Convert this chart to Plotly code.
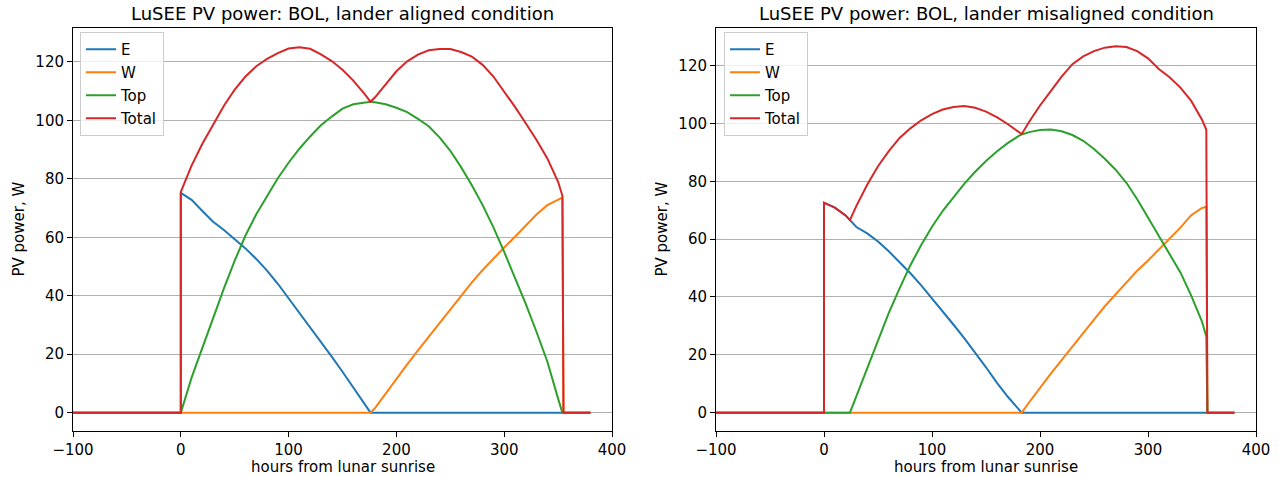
import plotly.graph_objects as go

# ---------------- data: aligned (left) ----------------
hours_aligned = [-100, 0, 0, 10, 20, 30, 40, 50, 60, 70, 80, 90, 100, 110, 120, 130, 140, 150, 160, 170, 176,
                 180, 190, 200, 210, 220, 230, 240, 250, 260, 270, 280, 290, 300, 310, 320, 330, 340, 350, 354, 355, 380]
E_aligned = [0, 0, 75.2, 72.8, 69, 65.3, 62.5, 59.5, 56.2, 52.6, 48.6, 44.1, 39.2, 34.2, 29.2, 24.2, 19.2, 14, 8.7, 3.5, 0,
             0, 0, 0, 0, 0, 0, 0, 0, 0, 0, 0, 0, 0, 0, 0, 0, 0, 0, 0, 0, 0]
W_aligned = [0, 0, 0, 0, 0, 0, 0, 0, 0, 0, 0, 0, 0, 0, 0, 0, 0, 0, 0, 0, 0,
             1.5, 6.6, 11.6, 16.5, 21.3, 26, 30.8, 35.5, 40.1, 44.6, 48.8, 52.8, 56.5, 60.2, 64, 67.8, 71, 73, 73.6, 0, 0]
Top_aligned = [0, 0, 0, 12, 22.3, 32.5, 42.5, 52, 60.6, 67.9, 74.3, 80.2, 85.5, 90.3, 94.5, 98.3, 101.3, 104, 105.5, 106.2, 106.4,
               106.2, 105.5, 104.3, 102.8, 100.5, 98, 94.2, 89.6, 84, 77.8, 71, 63.4, 55, 46.3, 37.2, 27.6, 17.5, 4.8, 0, 0, 0]
Total_aligned = [0, 0, 75.5, 84.5, 92, 98.5, 105, 110.5, 115, 118.5, 121, 123, 124.6, 125, 124.5, 122.6, 120.3, 117.3, 113.6, 109.2, 106.4,
                 107.8, 112.4, 116.8, 120.2, 122.5, 124, 124.4, 124.4, 123.4, 121.8, 119, 115, 110, 104.6, 99, 93.3, 87, 79, 74.2, 0, 0]

# ---------------- data: misaligned (right) ----------------
hours_mis = [-100, 0, 0, 10, 20, 24, 30, 40, 50, 60, 70, 80, 90, 100, 110, 120, 130, 140, 150, 160, 170, 180, 183,
             190, 200, 210, 220, 230, 240, 250, 260, 270, 280, 290, 300, 310, 320, 330, 340, 350, 354, 355, 380]
E_mis = [0, 0, 72.6, 70.9, 68.2, 66.6, 64.2, 62, 59.2, 55.8, 52.1, 48.2, 44, 39.6, 35, 30.4, 25.7, 20.9, 15.7, 10.4, 5.6, 1.3, 0,
         0, 0, 0, 0, 0, 0, 0, 0, 0, 0, 0, 0, 0, 0, 0, 0, 0, 0, 0, 0]
W_mis = [0, 0, 0, 0, 0, 0, 0, 0, 0, 0, 0, 0, 0, 0, 0, 0, 0, 0, 0, 0, 0, 0, 0,
         3.6, 8.7, 13.5, 18.2, 23, 27.6, 32.2, 36.8, 41, 45.2, 49.1, 52.6, 56.5, 60.3, 64, 68.3, 70.8, 71.2, 0, 0]
Top_mis = [0, 0, 0, 0, 0, 0, 5.7, 15.4, 25.2, 34.5, 43, 51, 58, 64.3, 69.8, 74.6, 79.2, 83.3, 87, 90.3, 93.2, 95.6, 96.2,
           97, 97.7, 97.9, 97.3, 96, 94, 91.2, 87.8, 84, 79.5, 73.8, 67.5, 61.5, 55.3, 48.5, 40.5, 31.5, 26.3, 0, 0]
Total_mis = [0, 0, 72.6, 70.9, 68.2, 66.6, 71.5, 78.8, 85.2, 90.4, 95, 98.3, 101.1, 103.2, 104.8, 105.7, 106, 105.4, 104.1, 102.2, 99.8, 97.2, 96.3,
             100.6, 106.2, 111.2, 116.2, 120.5, 123.2, 125, 126.2, 126.7, 126.4, 125, 122.5, 118.8, 116, 112.4, 107.8, 101.3, 97.8, 0, 0]

series_names = ["E", "W", "Top", "Total"]
colors = ["#1f77b4", "#ff7f0e", "#2ca02c", "#d62728"]
titles = ["LuSEE PV power: BOL, lander aligned condition", "LuSEE PV power: BOL, lander misaligned condition"]
x_ticks = [-100, 0, 100, 200, 300, 400]
x_tick_text = ["\u2212100", "0", "100", "200", "300", "400"]
y_ticks = [0, 20, 40, 60, 80, 100, 120]
x_label = "hours from lunar sunrise"
y_label = "PV power, W"

W_PX, H_PX = 1278, 477
FONT = "DejaVu Sans"
FS = 15

fig = go.Figure()

panels = [
    (hours_aligned, [E_aligned, W_aligned, Top_aligned, Total_aligned], "x", "y", "legend", "L"),
    (hours_mis, [E_mis, W_mis, Top_mis, Total_mis], "x2", "y2", "legend2", "R"),
]
for hrs, vals, xa, ya, leg, tag in panels:
    for name, col, v in zip(series_names, colors, vals):
        fig.add_trace(go.Scatter(
            x=hrs, y=v, mode="lines", name=name, xaxis=xa, yaxis=ya,
            line=dict(color=col, width=2), legend=leg, legendgroup=tag + name,
        ))

# axes geometry (pixels -> paper)
left_px = [(73, 612), (716, 1256)]
y_dom = [(477 - 431) / H_PX, (477 - 28) / H_PX]
y_ranges = [[-6.27, 131.6], [-6.33, 133.0]]

common_axis = dict(showline=True, mirror=True, linecolor="black", linewidth=1,
                   ticks="outside", ticklen=5, tickwidth=1, tickcolor="black", automargin=False,
                   tickfont=dict(family=FONT, size=FS, color="black"), zeroline=False)

for i, ((x0, x1), yr) in enumerate(zip(left_px, y_ranges)):
    sfx = "" if i == 0 else str(i + 1)
    fig.layout["xaxis" + sfx] = dict(domain=[x0 / W_PX, x1 / W_PX], range=[-100, 400],
                                     tickvals=x_ticks, ticktext=x_tick_text, showgrid=False,
                                     anchor="y" + sfx, **common_axis)
    fig.layout["yaxis" + sfx] = dict(domain=y_dom, range=yr, tickvals=y_ticks,
                                     showgrid=True, gridcolor="#b0b0b0", gridwidth=1,
                                     anchor="x" + sfx, **common_axis)
    cx = (x0 + x1) / 2 / W_PX
    fig.add_annotation(text=titles[i], x=cx, y=1 - 13 / H_PX, xref="paper", yref="paper",
                       showarrow=False, xanchor="center", yanchor="middle",
                       font=dict(family=FONT, size=18, color="black"))
    fig.add_annotation(text=x_label, x=cx, y=10 / H_PX, xref="paper", yref="paper",
                       showarrow=False, xanchor="center", yanchor="middle",
                       font=dict(family=FONT, size=FS, color="black"))
    fig.add_annotation(text=y_label, x=(x0 - 55) / W_PX, y=(y_dom[0] + y_dom[1]) / 2,
                       xref="paper", yref="paper", showarrow=False, textangle=-90,
                       xanchor="center", yanchor="middle",
                       font=dict(family=FONT, size=FS, color="black"))

legend_style = dict(bgcolor="rgba(255,255,255,0.8)", bordercolor="#cccccc", borderwidth=1,
                    font=dict(family=FONT, size=FS, color="black"), xanchor="left", yanchor="top",
                    tracegroupgap=0.5, itemclick=False)
fig.update_layout(
    width=W_PX, height=H_PX, margin=dict(l=0, r=0, t=0, b=0, autoexpand=False),
    paper_bgcolor="white", plot_bgcolor="white", showlegend=True,
    legend=dict(x=80 / W_PX, y=1 - 32 / H_PX, **legend_style),
    legend2=dict(x=724 / W_PX, y=1 - 32 / H_PX, **legend_style),
    font=dict(family=FONT, color="black"),
)

fig.write_html("out.html", config={"displayModeBar": False},
               post_script="document.body.style.margin='0';document.body.style.overflow='hidden';")
